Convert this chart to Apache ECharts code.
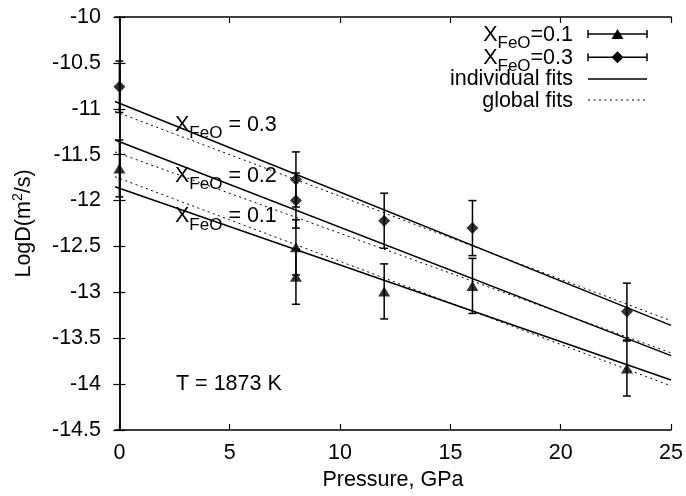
<!DOCTYPE html>
<html>
<head>
<meta charset="utf-8">
<script src="https://cdn.jsdelivr.net/npm/echarts@6/dist/echarts.min.js"></script>
<style>
html,body{margin:0;padding:0;background:#fff;}
#chart{width:686px;height:496px;}
</style>
</head>
<body>
<div id="chart"></div>
<script>
// ---- data ----
const pressure = [0, 8, 8, 12, 16, 23];
const logD_x01 = [-11.65, -12.51, -12.83, -12.99, -12.93, -13.83];
const err_x01  = [0.31, 0.30, 0.30, 0.30, 0.30, 0.30];
const logD_x03 = [-10.76, -11.77, -12.00, -12.22, -12.30, -13.21];
const err_x03  = [0.28, 0.30, 0.30, 0.30, 0.30, 0.31];

// fit lines: values at the two ends of the pressure range
const fitP      = [-0.2, 25];
const indiv_x03 = [-10.92, -13.36];
const indiv_x02 = [-11.34, -13.69];
const indiv_x01 = [-11.85, -13.955];
const glob_x03  = [-11.03, -13.31];
const glob_x02  = [-11.47, -13.66];
const glob_x01  = [-11.74, -14.02];

const xTicks = [0, 5, 10, 15, 20, 25];

const FONT = 'Liberation Sans, Arial, Helvetica, sans-serif';
const FS = 21.5;

function pts(xs, ys) { return xs.map((x, i) => [x, ys[i]]); }
function errData(xs, ys, es) { return xs.map((x, i) => [x, ys[i], es[i]]); }

function errorRender(params, api) {
  const x = api.value(0), y = api.value(1), e = api.value(2);
  const top = api.coord([x, y + e]);
  const bot = api.coord([x, y - e]);
  const hw = 4;
  const st = { stroke: '#000', lineWidth: 1.5 };
  return {
    type: 'group',
    children: [
      { type: 'line', shape: { x1: top[0], y1: top[1], x2: bot[0], y2: bot[1] }, style: st },
      { type: 'line', shape: { x1: top[0] - hw, y1: top[1], x2: top[0] + hw, y2: top[1] }, style: st },
      { type: 'line', shape: { x1: bot[0] - hw, y1: bot[1], x2: bot[0] + hw, y2: bot[1] }, style: st }
    ]
  };
}

function fitLine(ys, dotted) {
  return {
    type: 'line', data: pts(fitP, ys), symbol: 'none', silent: true,
    lineStyle: dotted ? { color: '#000', width: 1, type: [2, 3.5] } : { color: '#000', width: 1.5 },
    z: 2
  };
}

const axisCommon = {
  axisLine: { show: true, lineStyle: { color: '#000', width: 1.5 } },
  axisTick: { show: true, inside: true, length: 6, lineStyle: { color: '#000', width: 1.2 } },
  splitLine: { show: false }
};

const richSub = {
  b: { fontSize: FS, lineHeight: 21, verticalAlign: 'top', fontFamily: FONT, color: '#000' },
  s: { fontSize: 17, lineHeight: 17, padding: [11, 0, 0, 0], verticalAlign: 'top', fontFamily: FONT, color: '#000' }
};

function subText(x, y, txt, align) {
  return {
    type: 'text', x: x, y: y, silent: true,
    style: {
      text: txt, rich: richSub,
      fontSize: FS, fontFamily: FONT, fill: '#000',
      align: align, verticalAlign: 'top'
    }
  };
}
function plainText(x, y, txt, align) {
  return {
    type: 'text', x: x, y: y, silent: true,
    style: { text: txt, fontSize: FS, fontFamily: FONT, fill: '#000', align: align, verticalAlign: 'middle' }
  };
}

const L1 = 588, L2 = 647, LM = 617.5, LT = 573;
const legendGraphics = [
  subText(LT, 23.7, '{b|X}{s|FeO}{b|=0.1}', 'right'),
  subText(LT, 47, '{b|X}{s|FeO}{b|=0.3}', 'right'),
  plainText(LT, 79, 'individual fits', 'right'),
  plainText(LT, 101, 'global fits', 'right'),
  // row 1 sample
  { type: 'line', shape: { x1: L1, y1: 34, x2: L2, y2: 34 }, style: { stroke: '#000', lineWidth: 1.5 } },
  { type: 'line', shape: { x1: L1, y1: 30, x2: L1, y2: 38 }, style: { stroke: '#000', lineWidth: 1.5 } },
  { type: 'line', shape: { x1: L2, y1: 30, x2: L2, y2: 38 }, style: { stroke: '#000', lineWidth: 1.5 } },
  { type: 'polygon', shape: { points: [[LM, 29], [LM + 6, 39], [LM - 6, 39]] }, style: { fill: '#000' } },
  // row 2 sample
  { type: 'line', shape: { x1: L1, y1: 57.3, x2: L2, y2: 57.3 }, style: { stroke: '#000', lineWidth: 1.5 } },
  { type: 'line', shape: { x1: L1, y1: 53.3, x2: L1, y2: 61.3 }, style: { stroke: '#000', lineWidth: 1.5 } },
  { type: 'line', shape: { x1: L2, y1: 53.3, x2: L2, y2: 61.3 }, style: { stroke: '#000', lineWidth: 1.5 } },
  { type: 'polygon', shape: { points: [[LM, 51.3], [LM + 6, 57.3], [LM, 63.3], [LM - 6, 57.3]] }, style: { fill: '#000' } },
  // row 3, 4 samples
  { type: 'line', shape: { x1: L1, y1: 79, x2: L2, y2: 79 }, style: { stroke: '#000', lineWidth: 1.5 } },
  { type: 'line', shape: { x1: L1, y1: 100, x2: L2, y2: 100 }, style: { stroke: '#000', lineWidth: 1, lineDash: [2, 3.5] } }
];

const annotGraphics = [
  subText(175, 113.7, '{b|X}{s|FeO}{b| = 0.3}', 'left'),
  subText(175, 164.7, '{b|X}{s|FeO}{b| = 0.2}', 'left'),
  subText(175, 205.5, '{b|X}{s|FeO}{b| = 0.1}', 'left'),
  plainText(176, 384.5, 'T = 1873 K', 'left')
];

const chart = echarts.init(document.getElementById('chart'), null, { renderer: 'canvas' });
chart.setOption({
  animation: false,
  backgroundColor: '#fff',
  textStyle: { fontFamily: FONT },
  grid: { left: 115, right: 13, top: 17, bottom: 66, containLabel: false },
  xAxis: [
    Object.assign({}, axisCommon, {
      type: 'value', position: 'bottom', min: -0.2, max: 25,
      axisTick: Object.assign({}, axisCommon.axisTick, { customValues: xTicks }),
      axisLabel: { customValues: xTicks, color: '#000', fontSize: FS, fontFamily: FONT, margin: 12 },
      name: 'Pressure, GPa', nameLocation: 'middle', nameGap: 39,
      nameTextStyle: { color: '#000', fontSize: FS, fontFamily: FONT }
    }),
    Object.assign({}, axisCommon, {
      type: 'value', position: 'top', min: -0.2, max: 25,
      axisTick: Object.assign({}, axisCommon.axisTick, { customValues: xTicks }),
      axisLabel: { show: false }
    })
  ],
  yAxis: [
    Object.assign({}, axisCommon, {
      type: 'value', position: 'left', min: -14.5, max: -10, interval: 0.5,
      axisLabel: { color: '#000', fontSize: FS, fontFamily: FONT, margin: 14 },
      name: 'LogD(m{sup|2}/s)', nameLocation: 'middle', nameGap: 78,
      nameTextStyle: {
        color: '#000', fontSize: FS, fontFamily: FONT, lineHeight: 26,
        rich: { sup: { fontSize: 14, lineHeight: 14, verticalAlign: 'top', color: '#000', fontFamily: FONT } }
      }
    }),
    Object.assign({}, axisCommon, {
      type: 'value', position: 'right', min: -14.5, max: -10, interval: 0.5,
      axisLabel: { show: false }
    })
  ],
  series: [
    fitLine(indiv_x03, false), fitLine(indiv_x02, false), fitLine(indiv_x01, false),
    fitLine(glob_x03, true), fitLine(glob_x02, true), fitLine(glob_x01, true),
    { type: 'custom', renderItem: errorRender, data: errData(pressure, logD_x01, err_x01), silent: true, z: 3 },
    { type: 'custom', renderItem: errorRender, data: errData(pressure, logD_x03, err_x03), silent: true, z: 3 },
    { type: 'scatter', data: pts(pressure, logD_x01), symbol: 'triangle', symbolSize: [12, 10],
      itemStyle: { color: '#000' }, silent: true, z: 4 },
    { type: 'scatter', data: pts(pressure, logD_x03), symbol: 'diamond', symbolSize: [12, 12],
      itemStyle: { color: '#000' }, silent: true, z: 4 }
  ],
  graphic: legendGraphics.concat(annotGraphics)
});
</script>
</body>
</html>
